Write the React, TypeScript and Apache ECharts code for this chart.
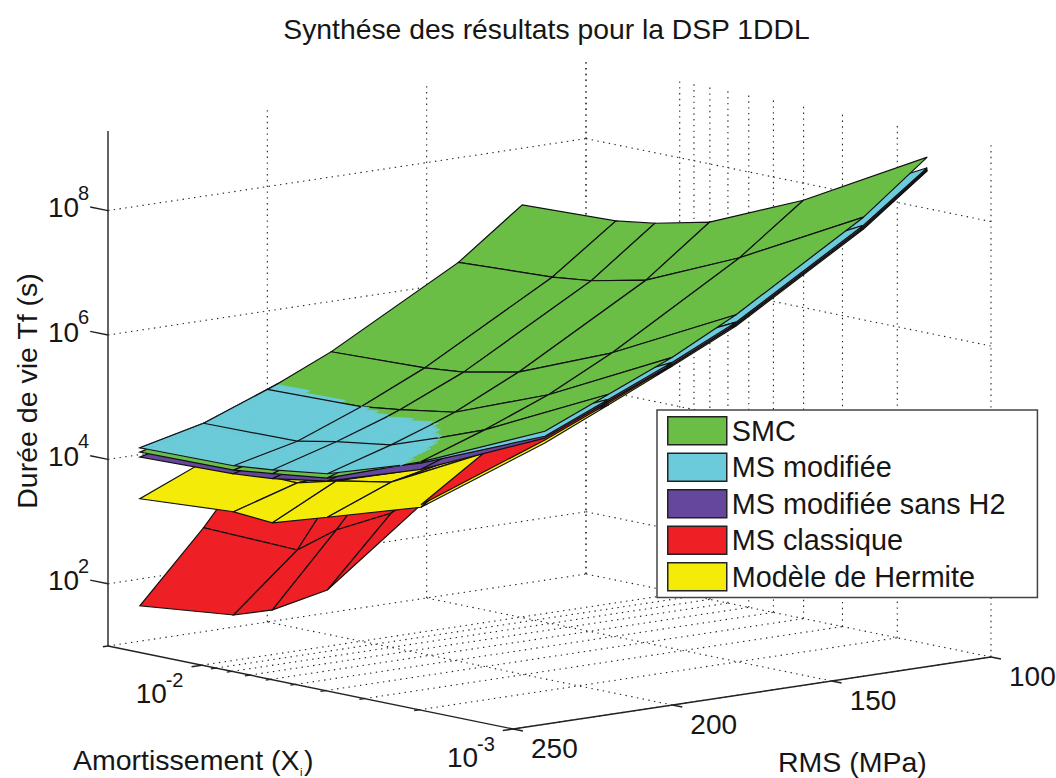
import React, { useEffect, useRef } from "react";
import * as echarts from "echarts";

// ---- data: log10 of the lifetime Tf (s); rows follow RMS, columns follow DAMPING
const RMS = [240, 220, 200, 180, 140, 120];
const DAMPING = [0.001, 0.0025, 0.005, 0.0075, 0.01, 0.02];

const SMC = [
  [5.71, 4.81, 4.24, 4.13, 4.06, 4.04],
  [6.15, 5.17, 4.6, 4.45, 4.32, 4.31],
  [6.59, 5.58, 4.99, 4.85, 4.77, 4.73],
  [7.12, 6.1, 5.48, 5.3, 5.24, 5.19],
  [8.38, 7.32, 6.65, 6.46, 6.39, 6.32],
  [9.19, 8.09, 7.43, 7.23, 7.14, 7.09],
];
const MS_MODIFIEE = [
  [5.63, 4.79, 4.31, 4.19, 4.13, 4.11],
  [6.07, 5.15, 4.62, 4.49, 4.37, 4.35],
  [6.51, 5.53, 4.98, 4.84, 4.77, 4.74],
  [7.0, 6.03, 5.43, 5.25, 5.17, 5.14],
  [8.25, 7.22, 6.59, 6.41, 6.34, 6.28],
  [9.02, 7.98, 7.37, 7.19, 7.09, 7.04],
];
const MS_SANS_H2 = [
  [5.6, 4.69, 4.19, 4.05, 4.0, 3.96],
  [6.04, 5.05, 4.54, 4.37, 4.28, 4.23],
  [6.48, 5.46, 4.93, 4.78, 4.7, 4.67],
  [6.97, 5.97, 5.39, 5.21, 5.13, 5.09],
  [8.22, 7.17, 6.54, 6.36, 6.3, 6.23],
  [9.0, 7.93, 7.32, 7.14, 7.04, 6.99],
];
const MS_CLASSIQUE = [
  [5.57, 4.12, 2.44, 1.94, 1.73, 1.57],
  [6.01, 4.81, 3.52, 3.07, 2.62, 2.67],
  [6.47, 5.09, 4.46, 4.28, 4.07, 3.93],
  [6.96, 5.98, 4.95, 4.69, 4.56, 4.66],
  [8.21, 7.12, 6.25, 5.99, 5.86, 5.71],
  [8.98, 7.77, 6.82, 6.56, 6.43, 6.36],
];
const HERMITE = [
  [5.52, 4.08, 3.61, 3.34, 3.39, 3.29],
  [5.98, 4.8, 4.02, 3.86, 3.7, 3.73],
  [6.45, 5.01, 4.24, 3.85, 3.78, 4.09],
  [6.94, 5.9, 4.63, 4.29, 4.11, 4.33],
  [8.19, 6.96, 5.69, 5.43, 5.3, 5.15],
  [8.97, 7.45, 6.34, 6.08, 5.95, 5.8],
];

const RMS_TICKS = [250, 200, 150, 100];
const DAMPING_GRID = [0.001, 0.002, 0.003, 0.004, 0.005, 0.006, 0.007, 0.008, 0.009, 0.01, 0.02];
const DAMPING_MAJOR = [0.001, 0.01];
const DAMPING_LABELS = ["-3", "-2"];
const LOG_T_TICKS = [2, 4, 6, 8];

const TITLE = "Synthése des résultats pour la DSP 1DDL";
const COLORS = { smc: "#6ABD45", modif: "#6BCBDB", sansH2: "#65479D", classique: "#EE1F25", hermite: "#F4EB09" };

// ---- view of the MATLAB box (orthographic)
const RMS_MIN = 100, RMS_MAX = 250, D_MIN = 0.001, D_MAX = 0.02, Z_MIN = 1, Z_MAX = 9.28;
const VIEW = { fx: 513, fy: 729, ux: 478, uy: -72, vx: -405, vy: -83, zy: -62.2 };
const FONT = "Liberation Sans, Arial, sans-serif";
const INK = "#161616";

function project(rms: number, d: number, z: number): [number, number] {
  const u = (RMS_MAX - rms) / (RMS_MAX - RMS_MIN);
  const v = (Math.log10(d) - Math.log10(D_MIN)) / (Math.log10(D_MAX) - Math.log10(D_MIN));
  return [
    VIEW.fx + VIEW.ux * u + VIEW.vx * v,
    VIEW.fy + VIEW.uy * u + VIEW.vy * v + VIEW.zy * (z - Z_MIN),
  ];
}

const nodeOf = (g: number[][], i: number, j: number) => project(RMS[i], DAMPING[j], g[i][j]);

function cellsOf(filter?: (i: number, j: number) => boolean) {
  const out: number[][] = [];
  for (let i = 0; i < RMS.length - 1; i++)
    for (let j = 0; j < DAMPING.length - 1; j++)
      if (!filter || filter(i, j)) out.push([i, j]);
  return out.sort((a, b) => b[0] + b[1] - (a[0] + a[1]));
}

function surfaceSeries(name: string, color: string, g: number[][], filter?: (i: number, j: number) => boolean) {
  return {
    type: "custom", name, coordinateSystem: "cartesian2d", silent: true, clip: false,
    itemStyle: { color },
    data: cellsOf(filter),
    renderItem: (_: any, api: any) => {
      const i = api.value(0), j = api.value(1);
      const pts = [nodeOf(g, i, j), nodeOf(g, i + 1, j), nodeOf(g, i + 1, j + 1), nodeOf(g, i, j + 1)].map((p) => api.coord(p));
      return { type: "polygon", shape: { points: pts }, style: { fill: color, stroke: "#111", lineWidth: 1.2 } };
    },
  };
}

// Hidden-surface patches: where MS modifiée rises above SMC it shows through.
const SUB = 14;
const gap = (i: number, j: number) => MS_MODIFIEE[i][j] - SMC[i][j];
const bil = (a: number, b: number, c: number, d: number, s: number, t: number) =>
  a * (1 - s) * (1 - t) + b * s * (1 - t) + c * s * t + d * (1 - s) * t;

function patchCells() {
  const out: number[][] = [];
  cellsOf().forEach(([i, j]) => {
    const c = [gap(i, j), gap(i + 1, j), gap(i + 1, j + 1), gap(i, j + 1)];
    if (Math.max(...c) <= 0) return;
    for (let a = 0; a < SUB; a++)
      for (let b = 0; b < SUB; b++) {
        const h = bil(c[0], c[1], c[2], c[3], (a + 0.5) / SUB, (b + 0.5) / SUB);
        if (h > 0) out.push([i, j, a, b]);
      }
  });
  return out;
}

const patchSeries = {
  type: "custom", coordinateSystem: "cartesian2d", silent: true, clip: false,
  data: patchCells(),
  renderItem: (_: any, api: any) => {
    const i = api.value(0), j = api.value(1), a = api.value(2), b = api.value(3);
    const n = [nodeOf(MS_MODIFIEE, i, j), nodeOf(MS_MODIFIEE, i + 1, j), nodeOf(MS_MODIFIEE, i + 1, j + 1), nodeOf(MS_MODIFIEE, i, j + 1)];
    const at = (s: number, t: number) =>
      api.coord([bil(n[0][0], n[1][0], n[2][0], n[3][0], s, t), bil(n[0][1], n[1][1], n[2][1], n[3][1], s, t)]);
    const pts = [at(a / SUB, b / SUB), at((a + 1) / SUB, b / SUB), at((a + 1) / SUB, (b + 1) / SUB), at(a / SUB, (b + 1) / SUB)];
    return { type: "polygon", shape: { points: pts }, style: { fill: COLORS.modif, stroke: COLORS.modif, lineWidth: 0.7 } };
  },
};

// Mesh edges of MS modifiée, kept only where that surface lies above SMC.
function patchEdges() {
  const out: number[][] = [];
  for (let i = 0; i < RMS.length; i++)
    for (let j = 0; j < DAMPING.length; j++) {
      if (i + 1 < RMS.length && Math.max(gap(i, j), gap(i + 1, j)) > 0) out.push([i, j, i + 1, j]);
      if (j + 1 < DAMPING.length && Math.max(gap(i, j), gap(i, j + 1)) > 0) out.push([i, j, i, j + 1]);
    }
  return out;
}

const patchMeshSeries = {
  type: "custom", coordinateSystem: "cartesian2d", silent: true, clip: false,
  data: patchEdges(),
  renderItem: (_: any, api: any) => {
    const i0 = api.value(0), j0 = api.value(1), i1 = api.value(2), j1 = api.value(3);
    let a = nodeOf(MS_MODIFIEE, i0, j0);
    let b = nodeOf(MS_MODIFIEE, i1, j1);
    const g0 = gap(i0, j0), g1 = gap(i1, j1);
    if (g0 <= 0 || g1 <= 0) {
      const t = g0 / (g0 - g1);
      const m: [number, number] = [a[0] + (b[0] - a[0]) * t, a[1] + (b[1] - a[1]) * t];
      if (g0 <= 0) a = m;
      else b = m;
    }
    const p = api.coord(a), q = api.coord(b);
    return { type: "line", shape: { x1: p[0], y1: p[1], x2: q[0], y2: q[1] }, style: { stroke: "#111", lineWidth: 1.2 } };
  },
};

// ---- box: grid, axes, ticks
type Seg = [number, number, number, number, number, number];
const gridSegs: Seg[] = [];
LOG_T_TICKS.forEach((z) => {
  gridSegs.push([RMS_MAX, D_MAX, z, RMS_MIN, D_MAX, z]);
  gridSegs.push([RMS_MIN, D_MAX, z, RMS_MIN, D_MIN, z]);
});
RMS_TICKS.slice(1).forEach((r) => {
  gridSegs.push([r, D_MAX, Z_MIN, r, D_MAX, Z_MAX]);
  gridSegs.push([r, D_MIN, Z_MIN, r, D_MAX, Z_MIN]);
});
DAMPING_GRID.forEach((d) => {
  gridSegs.push([RMS_MIN, d, Z_MIN, RMS_MIN, d, Z_MAX]);
  gridSegs.push([RMS_MAX, d, Z_MIN, RMS_MIN, d, Z_MIN]);
});

const axisSegs: Seg[] = [
  [RMS_MAX, D_MIN, Z_MIN, RMS_MAX, D_MAX, Z_MIN],
  [RMS_MAX, D_MIN, Z_MIN, RMS_MIN, D_MIN, Z_MIN],
  [RMS_MAX, D_MAX, Z_MIN, RMS_MAX, D_MAX, Z_MAX],
];
const vLogSpan = Math.log10(D_MAX) - Math.log10(D_MIN);
RMS_TICKS.forEach((r) => {
  axisSegs.push([r, D_MIN, Z_MIN, r, Math.pow(10, Math.log10(D_MIN) - 0.032), Z_MIN]);
});
DAMPING_GRID.forEach((d) => {
  const major = DAMPING_MAJOR.includes(d);
  axisSegs.push([RMS_MAX, d, Z_MIN, RMS_MAX + (major ? 3.2 : 1.6), d, Z_MIN]);
});
LOG_T_TICKS.forEach((z) => {
  axisSegs.push([RMS_MAX, D_MAX, z, RMS_MAX, Math.pow(10, Math.log10(D_MAX) + 0.044 * vLogSpan), z]);
});

function segSeries(segs: Seg[], stroke: string, lineWidth: number, lineDash?: number[]) {
  return {
    type: "custom", coordinateSystem: "cartesian2d", silent: true, clip: false,
    data: segs,
    renderItem: (_: any, api: any) => {
      const a = api.coord(project(api.value(0), api.value(1), api.value(2)));
      const b = api.coord(project(api.value(3), api.value(4), api.value(5)));
      return { type: "line", shape: { x1: a[0], y1: a[1], x2: b[0], y2: b[1] }, style: { stroke, lineWidth, lineDash } };
    },
  };
}

const textEl = (text: string, x: number, y: number, fontSize: number) => ({
  type: "text",
  style: { text, x, y, fontSize, fontFamily: FONT, fill: INK, align: "left", verticalAlign: "middle" },
});

const labelSeries = {
  type: "custom", coordinateSystem: "cartesian2d", silent: true, clip: false,
  data: [
    ...LOG_T_TICKS.map((_, k) => [0, k]),
    ...DAMPING_MAJOR.map((_, k) => [1, k]),
    ...RMS_TICKS.map((_, k) => [2, k]),
  ],
  renderItem: (_: any, api: any) => {
    const kind = api.value(0), k = api.value(1);
    if (kind === 2) {
      const p = api.coord(project(RMS_TICKS[k], D_MIN, Z_MIN));
      return textEl(String(RMS_TICKS[k]), p[0] + 18, p[1] + 19, 28);
    }
    if (kind === 1) {
      const p = api.coord(project(RMS_MAX, DAMPING_MAJOR[k], Z_MIN));
      return {
        type: "group",
        children: [textEl("10", p[0] - 66, p[1] + 28, 28), textEl(DAMPING_LABELS[k], p[0] - 36, p[1] + 15, 20)],
      };
    }
    const p = api.coord(project(RMS_MAX, D_MAX, LOG_T_TICKS[k]));
    return {
      type: "group",
      children: [textEl("10", p[0] - 60, p[1] - 3, 28), textEl(String(LOG_T_TICKS[k]), p[0] - 30, p[1] - 18, 20)],
    };
  },
};

const axisText = (text: string, x: number, y: number, fontSize = 28.5, rotation = 0) => ({
  type: "text", x, y, rotation, silent: true,
  style: { text, fontSize, fontFamily: FONT, fill: INK, align: rotation ? "center" : "left", verticalAlign: "middle" },
});

export default function App() {
  const ref = useRef<HTMLDivElement>(null);
  useEffect(() => {
    const chart = echarts.init(ref.current!, undefined, { renderer: "svg" });
    chart.setOption({
      animation: false,
      backgroundColor: "#fff",
      title: {
        text: TITLE, left: 541.5, top: 10, textAlign: "center",
        textStyle: { fontSize: 28.3, fontWeight: "normal", fontFamily: FONT, color: INK },
      },
      grid: { left: 0, right: 0, top: 0, bottom: 0 },
      xAxis: { type: "value", min: 0, max: 1056, show: false },
      yAxis: { type: "value", min: 0, max: 778, inverse: true, show: false },
      legend: {
        left: 657, top: 410, orient: "vertical", icon: "rect",
        data: ["SMC", "MS modifiée", "MS modifiée sans H2", "MS classique", "Modèle de Hermite"],
        itemWidth: 59, itemHeight: 28, itemGap: 7,
        padding: [6, 32, 6, 10], z: 100,
        backgroundColor: "#fff", borderColor: "#444", borderWidth: 1.5,
        itemStyle: { borderColor: "#222", borderWidth: 1.5 },
        textStyle: { fontSize: 28.8, lineHeight: 28, fontFamily: FONT, color: INK },
        selectedMode: false,
      },
      graphic: [
        axisText("Amortissement (X", 73, 760),
        axisText("i", 300, 772, 11),
        axisText(")", 304, 760),
        axisText("RMS (MPa)", 778, 762),
        axisText("Durée de vie Tf (s)", 27, 391, 28.5, Math.PI / 2),
      ],
      series: [
        segSeries(gridSegs, "#222", 1.1, [1.4, 4.4]),
        segSeries(axisSegs, "#222", 1.4),
        labelSeries,
        surfaceSeries("MS classique", COLORS.classique, MS_CLASSIQUE),
        surfaceSeries("Modèle de Hermite", COLORS.hermite, HERMITE),
        surfaceSeries("MS classique (front)", COLORS.classique, MS_CLASSIQUE, (i, j) => j === 0),
        surfaceSeries("MS modifiée sans H2", COLORS.sansH2, MS_SANS_H2),
        surfaceSeries("MS modifiée", COLORS.modif, MS_MODIFIEE),
        surfaceSeries("SMC", COLORS.smc, SMC),
        patchSeries,
        patchMeshSeries,
      ],
    });
    return () => chart.dispose();
  }, []);
  return <div ref={ref} style={{ position: "fixed", left: 0, top: 0, width: 1056, height: 778 }} />;
}
